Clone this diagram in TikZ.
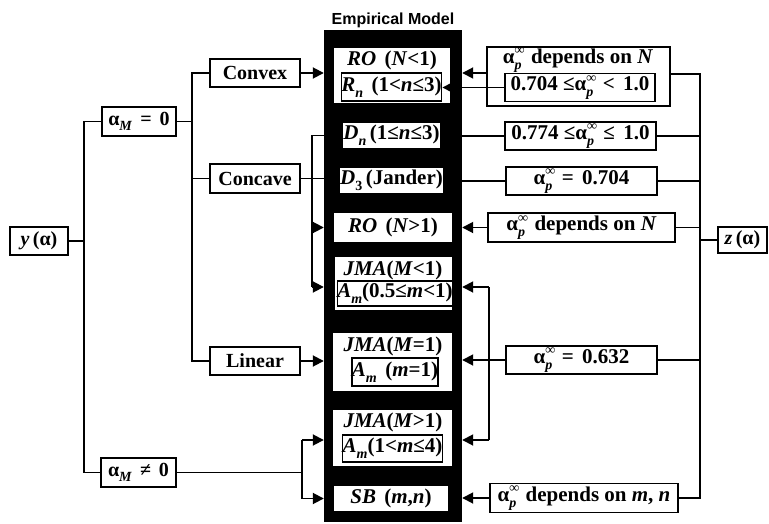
\documentclass[tikz,border=0pt]{standalone}
\usepackage{fontspec}
\setmainfont{Liberation Serif}
\setsansfont{Liberation Sans}
\usetikzlibrary{arrows.meta}
\newcommand\sbx[1]{\raisebox{-0.28em}{\fontsize{14}{14}\selectfont #1}}
\newcommand\spx[1]{\raisebox{0.42em}{\fontsize{14}{14}\selectfont #1}}
\newcommand\ap{α\rlap{\spx{∞}}\sbx{\textit{p}}\kern1pt}
\newcommand\wsp{\hspace{0.4em}}
\begin{document}
\begin{tikzpicture}[x=1pt,y=-1pt,
  mfont/.style={font=\fontsize{20}{22}\selectfont\bfseries},
  rfont/.style={font=\fontsize{21}{23}\selectfont\bfseries},
  cfont/.style={font=\fontsize{21}{23}\selectfont\bfseries},
  box/.style={draw, line width=1.6pt, fill=white, inner sep=0pt, mfont},
  rbox/.style={box, rfont},
  wbox/.style={fill=white, inner sep=0pt, cfont},
  fbox/.style={draw, line width=1.5pt, fill=white, inner sep=0pt, cfont},
  txt/.style={inner sep=0pt, cfont},
  ln/.style={line width=1.8pt},
  arr/.style={line width=1.8pt, -{Triangle[length=11pt,width=11pt]}}]
\useasboundingbox (0,0) rectangle (769,524);
% central column
\node[fill=black, inner sep=0pt, minimum width=138, minimum height=492] (col) at (393,276) {};
\node[inner sep=0pt, font=\fontsize{16}{18}\selectfont\sffamily\bfseries, anchor=base] (title) at (393,25) {Empirical Model};
% column contents
\node[wbox, minimum width=116, minimum height=55] (g1) at (392,75.5) {};
\node[txt] (ro1) at (392,60) {\textit{RO}\wsp(\textit{N}<1)};
\node[fbox, minimum width=97, minimum height=28] (rn) at (391.5,87) {\textit{R}\sbx{\textit{n}}\wsp(1<\textit{n}≤3)};
\node[wbox, minimum width=93, minimum height=25] (dn) at (391.5,135.5) {\textit{D}\sbx{\textit{n}}\,(1≤\textit{n}≤3)};
\node[wbox, minimum width=93, minimum height=25] (d3) at (391.5,180.5) {\textit{D}\sbx{3}\,(Jander)};
\node[wbox, minimum width=118, minimum height=29] (ro2) at (393,227.5) {\textit{RO}\wsp(\textit{N}>1)};
\node[wbox, minimum width=117, minimum height=53] (g2) at (393.5,283.5) {};
\node[txt] (jma1) at (393,270) {\textit{JMA}(\textit{M}<1)};
\node[fbox, minimum width=110, minimum height=25] (am1) at (395,293.5) {\textit{A}\sbx{\textit{m}}(0.5≤\textit{m}<1)};
\node[wbox, minimum width=119, minimum height=58] (g3) at (392.5,362) {};
\node[txt] (jma2) at (393,346) {\textit{JMA}(\textit{M}=1)};
\node[fbox, minimum width=86, minimum height=28] (am2) at (395,372) {\textit{A}\sbx{\textit{m}}\wsp(\textit{m}=1)};
\node[wbox, minimum width=119, minimum height=56] (g4) at (392.5,438) {};
\node[txt] (jma3) at (393,422) {\textit{JMA}(\textit{M}>1)};
\node[fbox, minimum width=99, minimum height=27] (am3) at (392.5,448.5) {\textit{A}\sbx{\textit{m}}(1<\textit{m}≤4)};
\node[wbox, minimum width=114, minimum height=25] (sb) at (391,498.5) {\textit{SB}\wsp(\textit{m},\textit{n})};
% left nodes
\node[box, minimum width=58, minimum height=28] (yal) at (39,241) {\textit{y}\,(α)};
\node[box, minimum width=74, minimum height=29] (am0) at (139,121.5) {α\sbx{\textit{M}}\wsp=\wsp0};
\node[box, minimum width=75, minimum height=29] (amn) at (138.5,472.5) {α\sbx{\textit{M}}\wsp≠\wsp0};
\node[box, minimum width=90, minimum height=28] (convex) at (255,73) {Convex};
\node[box, minimum width=90, minimum height=29] (concave) at (255,178.5) {Concave};
\node[box, minimum width=90, minimum height=28] (linear) at (255,361) {Linear};
% right nodes
\node[rbox, minimum width=183, minimum height=59] (r1) at (578.5,76.5) {};
\node[txt, rfont] (r1t) at (578,60) {\ap\wsp depends on \textit{N}};
\node[rbox, minimum width=150, minimum height=28] (r1in) at (580,87.5) {0.704 ≤\ap\wsp<\wsp1.0};
\node[rbox, minimum width=151, minimum height=28] (r2) at (580.5,136) {0.774 ≤\ap\wsp≤\wsp1.0};
\node[rbox, minimum width=151, minimum height=28] (r3) at (581.5,181) {\ap\wsp=\wsp0.704};
\node[rbox, minimum width=187, minimum height=29] (r4) at (581.5,227.5) {\ap\wsp depends on \textit{N}};
\node[rbox, minimum width=151, minimum height=28] (r5) at (581.5,360) {\ap\wsp=\wsp0.632};
\node[rbox, minimum width=188, minimum height=29] (r6) at (584,498) {\ap\wsp depends on \textit{m}, \textit{n}};
\node[box, minimum width=49, minimum height=26] (z) at (742.5,240) {\textit{z}\,(α)};
% bus coordinates
\coordinate (v1) at (84,241);
\coordinate (v2) at (192,121.5);
\coordinate (v3t) at (312,135.5);
\coordinate (v3b) at (312,287);
\coordinate (v4) at (302,472.5);
\coordinate (v5t) at (489,287);
\coordinate (v5b) at (489,440);
\coordinate (bt) at (700,74);
\coordinate (bb) at (700,498);
% left connectors
\draw[ln] (yal.east) -- (v1);
\draw[ln] (am0.west) -| (v1) |- (amn.west);
\draw[ln] (am0.east) -- (v2);
\draw[ln] (convex.west) -| (v2) |- (linear.west);
\draw[ln] (concave.west) -- (concave.west -| v2);
\draw[arr] (convex.east) -- (convex.east -| col.west);
\draw[ln] (concave.east) -- (concave.east -| col.west);
\draw[ln] (v3t -| col.west) -- (v3t) -- (v3b);
\draw[arr] (v3t |- ro2) -- (ro2 -| col.west);
\draw[arr] (v3b) -- (v3b -| col.west);
\draw[arr] (linear.east) -- (linear.east -| col.west);
\draw[ln] (amn.east) -- (v4);
\draw[ln] (v4 |- v5b) -- (v4 |- sb);
\draw[arr] (v4 |- v5b) -- (v5b -| col.west);
\draw[arr] (v4 |- sb) -- (sb -| col.west);
% right connectors
\draw[arr] ([yshift=3.5pt]r1.west) -- ([yshift=3.5pt]r1.west -| col.east);
\draw[arr] (r1in.west) -- (r1in.west -| rn.east);
\draw[ln] (r2.west) -- (r2.west -| col.east);
\draw[ln] (r3.west) -- (r3.west -| col.east);
\draw[arr] (r4.west) -- (r4.west -| col.east);
\draw[ln] (r5.west) -- (r5.west -| v5t);
\draw[arr] (r5.west -| v5t) -- (r5.west -| col.east);
\draw[ln] (v5t) -- (v5b);
\draw[arr] (v5t) -- (v5t -| col.east);
\draw[arr] (v5b) -- (v5b -| col.east);
\draw[arr] (r6.west) -- (r6.west -| col.east);
\draw[ln] (bt -| r1.east) -- (bt) -- (bb) -- (r6.east);
\draw[ln] (r2.east) -- (r2.east -| bt);
\draw[ln] (r3.east) -- (r3.east -| bt);
\draw[ln] (r4.east) -- (r4.east -| bt);
\draw[ln] (r5.east) -- (r5.east -| bt);
\draw[ln] (z.west) -- (z.west -| bt);
\end{tikzpicture}
\end{document}
